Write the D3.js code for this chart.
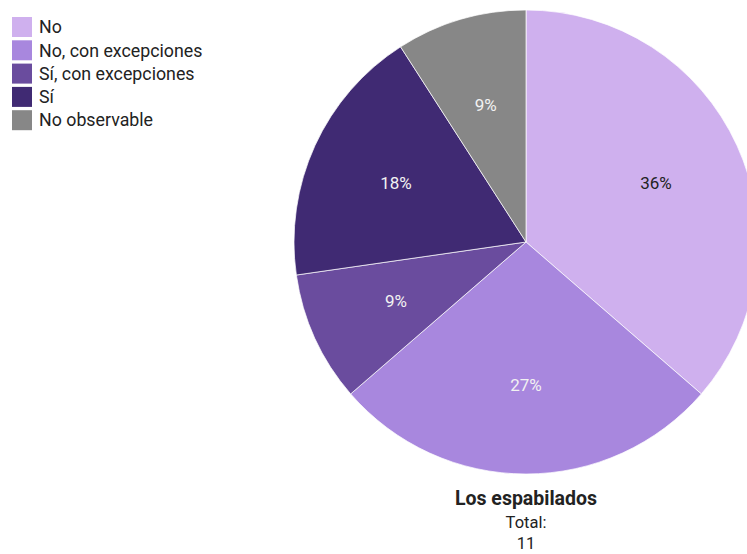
<!DOCTYPE html>
<html>
<head>
<meta charset="utf-8">
<script src="https://cdn.jsdelivr.net/npm/d3@7"></script>
<style>
  html, body { margin: 0; padding: 0; background: #fff; }
  svg { display: block; font-family: Roboto, "Noto Sans", sans-serif; }
</style>
</head>
<body>
<svg id="chart" width="747" height="554"></svg>
<script>
const categories = ["No", "No, con excepciones", "Sí, con excepciones", "Sí", "No observable"];
const counts = [4, 3, 1, 2, 1];
const colors = ["#cfb0ee", "#a887de", "#6a4c9e", "#402a73", "#878787"];
const labelColors = ["#222222", "#f2f2f2", "#f2f2f2", "#f2f2f2", "#f2f2f2"];
const title = "Los espabilados";

const svg = d3.select("#chart");
const cx = 526, cy = 242, radius = 232;
const total = d3.sum(counts);

const data = categories.map((c, i) => ({ name: c, value: counts[i], i }));
const pie = d3.pie().value(d => d.value).sort(null);
const arcs = pie(data);
const arc = d3.arc().innerRadius(0).outerRadius(radius);
const labelArc = d3.arc().innerRadius(radius * 0.616).outerRadius(radius * 0.616);

const g = svg.append("g").attr("transform", `translate(${cx},${cy})`);
g.selectAll("path.slice")
  .data(arcs)
  .join("path")
  .attr("class", "slice")
  .attr("d", arc)
  .attr("fill", d => colors[d.data.i])
  .attr("stroke", "#ffffff")
  .attr("stroke-opacity", 0.7)
  .attr("stroke-width", 1);

const fmt = d3.format(".0%");
g.selectAll("text.pct")
  .data(arcs)
  .join("text")
  .attr("class", "pct")
  .attr("transform", d => `translate(${labelArc.centroid(d)})`)
  .attr("text-anchor", "middle")
  .attr("dy", "0.35em")
  .attr("font-size", 17)
  .attr("fill", d => labelColors[d.data.i])
  .text(d => fmt(d.data.value / total));

// Legend
const legend = svg.append("g").attr("transform", "translate(12,17)");
const rows = legend.selectAll("g.row")
  .data(data)
  .join("g")
  .attr("class", "row")
  .attr("transform", (d, i) => `translate(0,${i * 23.3})`);
rows.append("rect")
  .attr("width", 20).attr("height", 20)
  .attr("fill", d => colors[d.i]);
rows.append("text")
  .attr("x", 27).attr("y", 10).attr("dy", "0.35em")
  .attr("font-size", 17.8)
  .attr("fill", "#222")
  .text(d => d.name);

// Title and total
svg.append("text")
  .attr("x", cx).attr("y", 505)
  .attr("text-anchor", "middle")
  .attr("font-size", 19.5).attr("font-weight", "bold")
  .attr("fill", "#222")
  .text(title);
svg.append("text")
  .attr("x", cx).attr("y", 528)
  .attr("text-anchor", "middle")
  .attr("font-size", 16.5)
  .attr("fill", "#222")
  .text("Total:");
svg.append("text")
  .attr("x", cx).attr("y", 549)
  .attr("text-anchor", "middle")
  .attr("font-size", 16.5)
  .attr("fill", "#222")
  .text(total);
</script>
</body>
</html>
